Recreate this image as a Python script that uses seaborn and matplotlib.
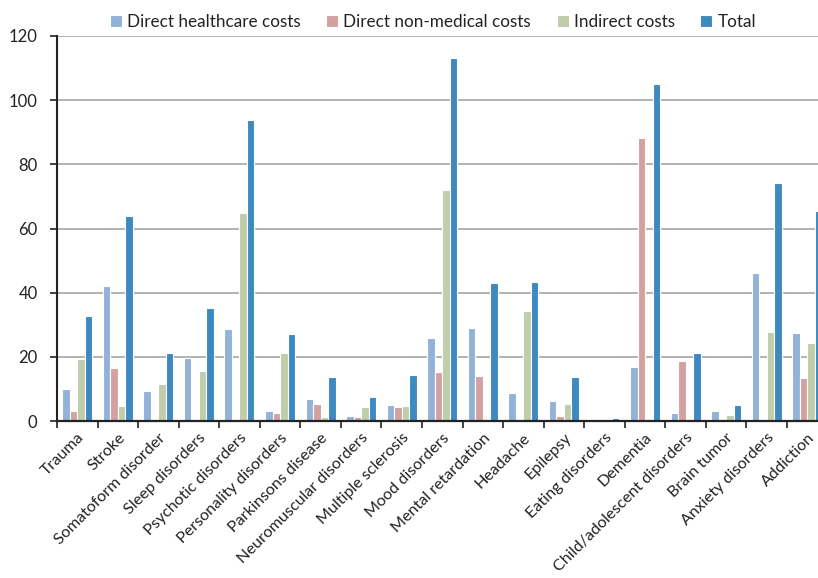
import numpy as np
import pandas as pd
import seaborn as sns
import matplotlib.pyplot as plt
from matplotlib.transforms import ScaledTranslation

# 数据
categories = ["Trauma", "Stroke", "Somatoform disorder", "Sleep disorders",
              "Psychotic disorders", "Personality disorders", "Parkinsons disease",
              "Neuromuscular disorders", "Multiple sclerosis", "Mood disorders",
              "Mental retardation", "Headache", "Epilepsy", "Eating disorders",
              "Dementia", "Child/adolescent disorders", "Brain tumor",
              "Anxiety disorders", "Addiction"]
direct_health = [10.0, 42.2, 9.3, 19.7, 28.8, 3.1, 6.9, 1.7, 5.1, 25.8,
                 29.0, 8.8, 6.3, 0.7, 16.7, 2.4, 3.0, 46.0, 27.4]
direct_nonmed = [3.2, 16.6, 0, 0, 0, 2.5, 5.3, 1.2, 4.4, 15.3,
                 13.9, 0, 1.5, 0, 88.1, 18.6, 0, 0, 13.4]
indirect = [19.3, 4.7, 11.4, 15.5, 64.8, 21.2, 1.1, 4.3, 4.6, 71.9,
            0, 34.3, 5.4, 0, 0, 0, 1.8, 27.7, 24.3]
total = [32.8, 63.9, 21.1, 35.3, 93.8, 27.1, 13.7, 7.6, 14.3, 113.2,
         43.1, 43.3, 13.6, 0.9, 105.0, 21.1, 4.9, 74.2, 65.6]
series_names = ["Direct healthcare costs", "Direct non-medical costs",
                "Indirect costs", "Total"]
colors = ["#92b2d8", "#d4a1a1", "#bfcdab", "#3d89c0"]

df = pd.DataFrame({"category": categories,
                   series_names[0]: direct_health,
                   series_names[1]: direct_nonmed,
                   series_names[2]: indirect,
                   series_names[3]: total})
long = df.melt(id_vars="category", var_name="series", value_name="value")

sns.set_style("white")
plt.rcParams['font.family'] = ['Lato', 'DejaVu Sans']

fig = plt.figure(figsize=(8.18, 5.78), dpi=100)
ax = fig.add_axes([57 / 818, 157 / 578, 770.5 / 818, 385 / 578])

sns.barplot(data=long, x="category", y="value", hue="series",
            hue_order=series_names, palette=colors, saturation=1, width=0.74,
            edgecolor="white", linewidth=0.8, ax=ax, zorder=3)

ax.set_xlim(-0.5, len(categories) - 0.5)
ax.set_ylim(0, 120)
ax.set_yticks(np.arange(0, 121, 20))
ax.yaxis.grid(True, color="#a6a6a6", linewidth=1.2, zorder=0)
ax.set_axisbelow(True)
for s in ["top", "right"]:
    ax.spines[s].set_visible(False)
ax.spines["left"].set_color("#222222")
ax.spines["left"].set_linewidth(1.5)
ax.spines["bottom"].set_color("#222222")
ax.spines["bottom"].set_linewidth(1.6)
ax.spines["bottom"].set_zorder(5)

ax.set_xticks(range(len(categories)))
ax.set_xticklabels(categories, rotation=45, ha="right",
                   rotation_mode="anchor", fontsize=11.6, color="#222222")
shift = ScaledTranslation(-3 / 100, 0, fig.dpi_scale_trans)
for lab in ax.get_xticklabels():
    lab.set_transform(lab.get_transform() + shift)
ax.set_xticks(np.arange(-0.5, len(categories), 1), minor=True)
ax.tick_params(axis="x", which="major", length=0, pad=7, bottom=True)
ax.tick_params(axis="x", which="minor", length=5, width=1.2, bottom=True,
               color="#222222", direction="out")
ax.tick_params(axis="y", length=5, width=1.2, color="#222222",
               direction="out", labelsize=12, left=True, pad=9,
               labelcolor="#222222")
ax.set_xlabel("")
ax.set_ylabel("")

handles, labels = ax.get_legend_handles_labels()
ax.legend(handles, labels, loc="upper center", bbox_to_anchor=(433 / 818, 1.003),
          bbox_transform=fig.transFigure, ncol=4, frameon=False, fontsize=12.3,
          handlelength=0.7, handleheight=0.7, handletextpad=0.3,
          columnspacing=1.5, labelcolor="#222222")

plt.savefig("out.png", dpi=100)
